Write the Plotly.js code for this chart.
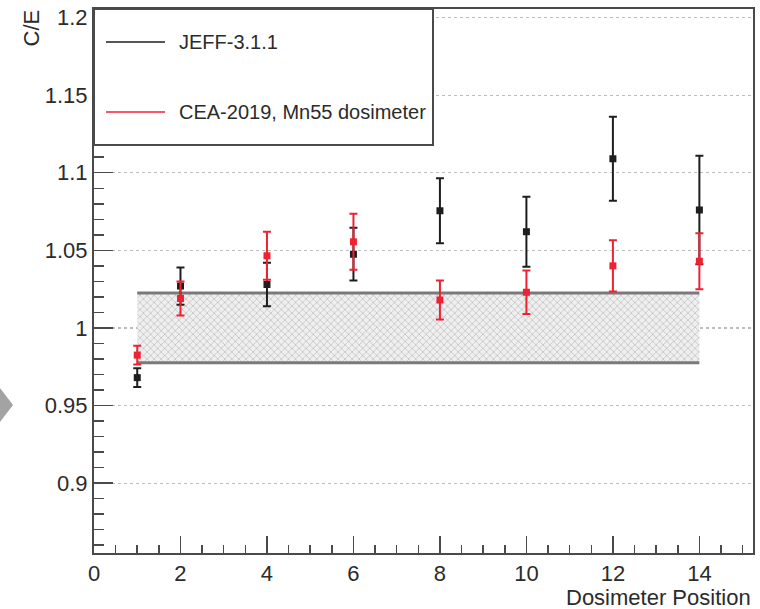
<!DOCTYPE html>
<html>
<head>
<meta charset="utf-8">
<script src="https://cdn.plot.ly/plotly-3.0.1.min.js"></script>
<style>html,body{margin:0;padding:0;background:#fff;}#chart{width:760px;height:609px;}</style>
</head>
<body>
<div id="chart"></div>
<script>
// ---- data ----
const positions = [1, 2, 4, 6, 8, 10, 12, 14];
const jeffValues = [0.968, 1.027, 1.028, 1.0475, 1.0755, 1.062, 1.109, 1.076];
const jeffErrors = [0.006, 0.012, 0.014, 0.017, 0.021, 0.0225, 0.027, 0.035];
const ceaValues = [0.9825, 1.019, 1.0465, 1.0555, 1.018, 1.023, 1.040, 1.043];
const ceaErrors = [0.006, 0.011, 0.0155, 0.018, 0.0125, 0.014, 0.0165, 0.018];
const seriesNames = ["JEFF-3.1.1", "CEA-2019, Mn55 dosimeter"];
const bandX = [1, 14];
const bandLow = 0.9775;
const bandHigh = 1.0225;
const yTickVals = [0.9, 0.95, 1, 1.05, 1.1, 1.15, 1.2];
const yTickText = ["0.9", "0.95", "1", "1.05", "1.1", "1.15", "1.2"];
const xTickVals = [0, 2, 4, 6, 8, 10, 12, 14];
const xTickText = ["0", "2", "4", "6", "8", "10", "12", "14"];
const xTitle = "Dosimeter Position";
const yTitle = "C/E";

// ---- styling ----
const BLACK = "#1e1e1e";
const RED = "#ee2233";
const AXIS = "#4a4a4a";
const TXT = "#2b2b2b";
const FONT = "Liberation Sans, Arial, Helvetica, sans-serif";

// plot frame in pixels (for paper conversions of decorations)
const L = 94, R = 753, T = 9, B = 553;
const px = x => (x - L) / (R - L);
const py = y => (B - y) / (B - T);

const traces = [
  {
    x: bandX, y: bandX.map(() => bandLow), mode: "lines",
    line: {color: "#7a7a7a", width: 3}, showlegend: false, hoverinfo: "skip"
  },
  {
    x: bandX, y: bandX.map(() => bandHigh), mode: "lines",
    line: {color: "#7a7a7a", width: 3}, fill: "tonexty",
    fillcolor: "rgba(225,225,225,0.6)",
    fillpattern: {shape: "x", fgcolor: "#a6a6a6", bgcolor: "#efefef", size: 5, solidity: 0.18},
    showlegend: false, hoverinfo: "skip"
  },
  {
    x: positions, y: jeffValues, name: seriesNames[0], mode: "markers",
    marker: {symbol: "square", size: 7, color: BLACK},
    error_y: {type: "data", array: jeffErrors, visible: true, color: BLACK, thickness: 2, width: 4},
    showlegend: false
  },
  {
    x: positions, y: ceaValues, name: seriesNames[1], mode: "markers",
    marker: {symbol: "square", size: 7, color: RED},
    error_y: {type: "data", array: ceaErrors, visible: true, color: RED, thickness: 2, width: 4},
    showlegend: false
  }
];

const layout = {
  width: 760, height: 609,
  margin: {l: L, r: 760 - R, t: T, b: 609 - B, pad: 0},
  paper_bgcolor: "#ffffff", plot_bgcolor: "#ffffff",
  font: {family: FONT, size: 22, color: TXT},
  showlegend: false,
  xaxis: {
    range: [0, 15.24], tickmode: "array", tickvals: xTickVals, ticktext: xTickText,
    ticks: "inside", ticklen: 17, tickwidth: 1.5, tickcolor: AXIS,
    minor: {dtick: 0.5, tick0: 0, ticks: "inside", ticklen: 8, tickwidth: 1.5, tickcolor: AXIS, showgrid: false},
    showline: true, linecolor: AXIS, linewidth: 2, mirror: true,
    showgrid: false, zeroline: false,
    tickfont: {family: FONT, size: 22, color: TXT}
  },
  yaxis: {
    range: [0.855, 1.2055], tickmode: "array", tickvals: yTickVals, ticktext: yTickText,
    ticks: "inside", ticklen: 19, tickwidth: 1.5, tickcolor: AXIS,
    minor: {dtick: 0.01, tick0: 0.9, ticks: "inside", ticklen: 10, tickwidth: 1.5, tickcolor: AXIS, showgrid: false},
    showline: true, linecolor: AXIS, linewidth: 2, mirror: true,
    showgrid: true, gridcolor: "#bdbdbd", griddash: "dot", gridwidth: 1.2,
    zeroline: false,
    tickfont: {family: FONT, size: 22, color: TXT}
  },
  shapes: [
    // legend box
    {type: "rect", xref: "paper", yref: "paper", x0: 0, x1: px(433), y0: py(145), y1: 1,
     fillcolor: "#ffffff", line: {color: AXIS, width: 2}, layer: "above"},
    {type: "line", xref: "paper", yref: "paper", x0: px(106), x1: px(165), y0: py(42), y1: py(42),
     line: {color: BLACK, width: 1.5}, layer: "above"},
    {type: "line", xref: "paper", yref: "paper", x0: px(106), x1: px(165), y0: py(112), y1: py(112),
     line: {color: RED, width: 1.5}, layer: "above"},
    // grey arrow fragment at the left edge
    {type: "path", xref: "paper", yref: "paper",
     path: `M ${px(-6)},${py(388)} L ${px(0)},${py(388)} L ${px(13)},${py(405)} L ${px(0)},${py(422)} L ${px(-6)},${py(422)} Z`,
     fillcolor: "#a3a3a3", line: {width: 0}, layer: "above"}
  ],
  annotations: [
    {xref: "paper", yref: "paper", x: px(177), y: py(42), xanchor: "left", yanchor: "middle",
     text: seriesNames[0], showarrow: false, font: {family: FONT, size: 20, color: TXT}},
    {xref: "paper", yref: "paper", x: px(177), y: py(112), xanchor: "left", yanchor: "middle",
     text: seriesNames[1], showarrow: false, font: {family: FONT, size: 20, color: TXT}},
    {xref: "paper", yref: "paper", x: px(753), y: py(597), xanchor: "right", yanchor: "middle",
     text: xTitle, showarrow: false, font: {family: FONT, size: 22, color: TXT}},
    {xref: "paper", yref: "paper", x: px(31), y: py(8), xanchor: "center", yanchor: "top",
     text: yTitle, textangle: -90, showarrow: false, font: {family: FONT, size: 22, color: TXT}}
  ]
};

Plotly.newPlot("chart", traces, layout, {displayModeBar: false, staticPlot: true});
</script>
</body>
</html>
